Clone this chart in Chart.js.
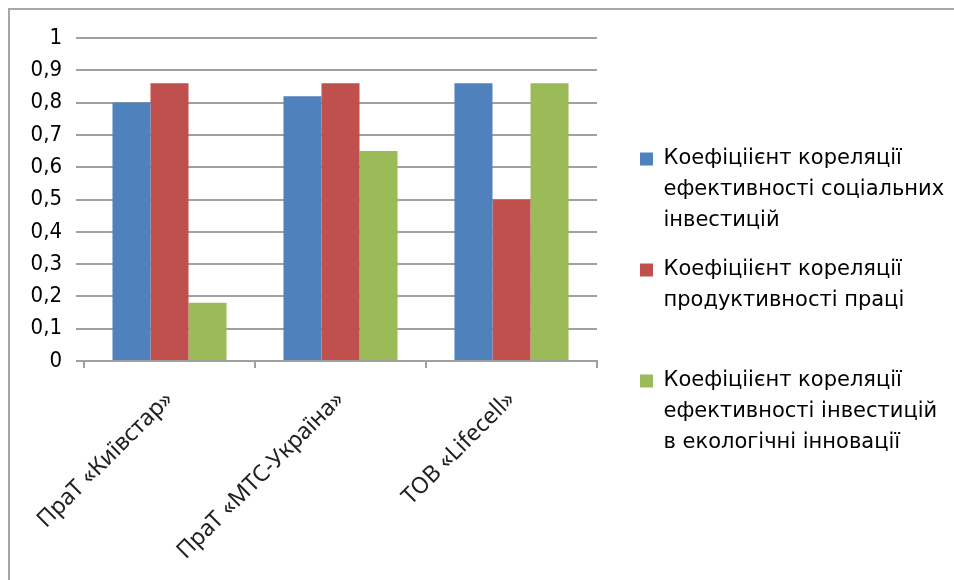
<!DOCTYPE html>
<html>
<head>
<meta charset="utf-8">
<script src="https://cdn.jsdelivr.net/npm/chart.js@4.4.1/dist/chart.umd.min.js"></script>
<style>
    html, body { margin: 0; padding: 0; background: #fff; }
    #wrap { position: relative; width: 954px; height: 580px; overflow: hidden; }
    #frame {
        position: absolute; left: 8px; top: 8px; width: 1000px; height: 1000px;
        border-left: 2px solid #a6a6a6; border-top: 2px solid #a6a6a6;
    }
    #chart { position: absolute; left: 0; top: 0; }
</style>
</head>
<body>
<div id="wrap">
    <div id="frame"></div>
    <canvas id="chart" width="954" height="580"></canvas>
</div>
<script>
const companies = ['ПраТ «Київстар»', 'ПраТ «МТС-Україна»', 'ТОВ «Lifecell»'];

const socialInvest = [0.80, 0.82, 0.86];
const laborProductivity = [0.86, 0.86, 0.50];
const ecoInvest = [0.18, 0.65, 0.86];

const seriesNames = [
    ['Коефіціієнт кореляції', 'ефективності соціальних', 'інвестицій'],
    ['Коефіціієнт кореляції', 'продуктивності праці', ''],
    ['Коефіціієнт кореляції', 'ефективності інвестицій', 'в екологічні інновації']
];

const yTicks = [0, 0.1, 0.2, 0.3, 0.4, 0.5, 0.6, 0.7, 0.8, 0.9, 1];

const colors = ['#4f81bd', '#c0504d', '#9bbb59'];

function makeDataset(label, data, color) {
    return {
        label: label,
        data: data,
        backgroundColor: color,
        borderWidth: 0,
        categoryPercentage: 0.667,
        barPercentage: 1.0
    };
}

// fixed legend width so the plot ends at the same place, then nudge items right
const legendWidthPlugin = {
    id: 'legendWidth',
    beforeLayout: function (chart) {
        const legend = chart.legend;
        if (legend && !legend._wrapped) {
            const fit = legend.fit.bind(legend);
            legend.fit = function () {
                fit();
                this.width = 357;
            };
            legend._wrapped = true;
        }
    },
    afterLayout: function (chart) {
        chart.legend.left += 25;
        chart.legend.top -= 6;
    }
};

new Chart(document.getElementById('chart'), {
    type: 'bar',
    data: {
        labels: companies,
        datasets: [
            makeDataset(seriesNames[0], socialInvest, colors[0]),
            makeDataset(seriesNames[1], laborProductivity, colors[1]),
            makeDataset(seriesNames[2], ecoInvest, colors[2])
        ]
    },
    plugins: [legendWidthPlugin],
    options: {
        responsive: false,
        animation: false,
        devicePixelRatio: 1,
        layout: { padding: { left: 0, top: 38, right: 0, bottom: 0 } },
        plugins: {
            tooltip: { enabled: false },
            legend: {
                position: 'right',
                align: 'center',
                labels: {
                    boxWidth: 13,
                    boxHeight: 13,
                    padding: 18,
                    color: '#000',
                    font: { family: 'DejaVu Sans', size: 21, lineHeight: 1.476 }
                }
            }
        },
        scales: {
            x: {
                offset: true,
                afterFit: function (scale) { scale.height = 219; },
                grid: {
                    display: true,
                    offset: true,
                    drawOnChartArea: false,
                    drawTicks: true,
                    tickLength: 7,
                    color: '#a0a0a0',
                    lineWidth: 2
                },
                border: { display: true, color: '#a0a0a0', width: 2 },
                ticks: {
                    maxRotation: 45,
                    minRotation: 45,
                    padding: 18,
                    color: '#222',
                    font: { family: 'Noto Sans', size: 23 }
                }
            },
            y: {
                min: 0,
                max: 1,
                afterBuildTicks: function (scale) {
                    scale.ticks = yTicks.map(function (v) { return { value: v }; });
                },
                afterFit: function (scale) { scale.width = 84; },
                grid: {
                    color: '#a0a0a0',
                    lineWidth: 2,
                    tickLength: 8
                },
                border: { display: false },
                ticks: {
                    padding: 14,
                    color: '#000',
                    font: { family: 'DejaVu Sans Condensed', size: 22 },
                    callback: function (v) { return String(v).replace('.', ','); }
                }
            }
        }
    }
});
</script>
</body>
</html>
